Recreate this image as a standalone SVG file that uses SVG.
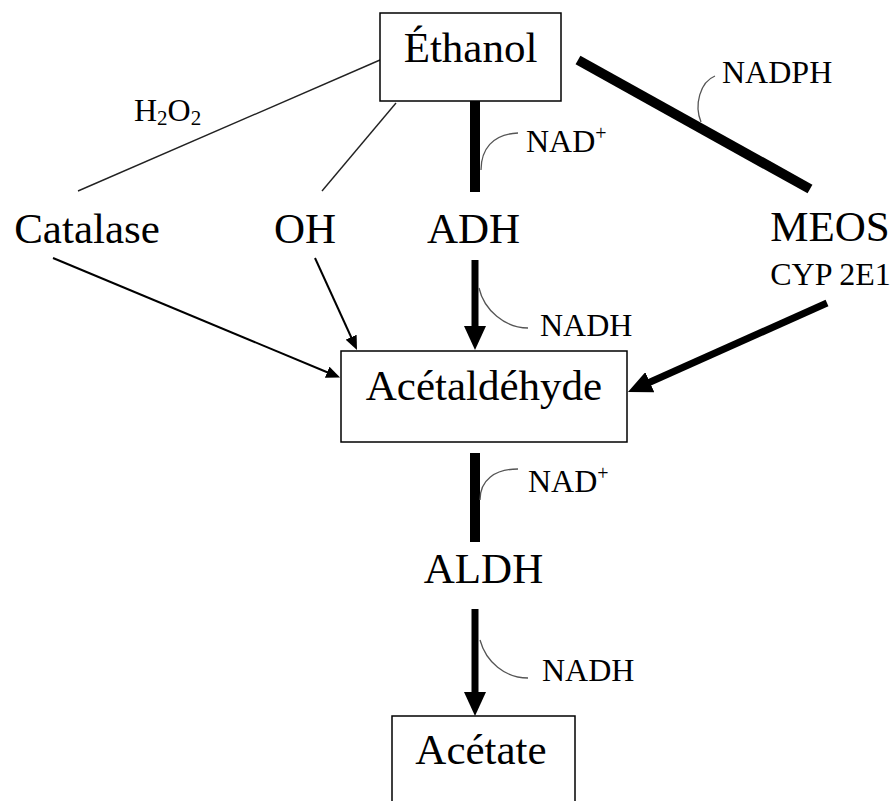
<svg xmlns="http://www.w3.org/2000/svg" width="892" height="801" viewBox="0 0 892 801">
<defs>
<style>
.big{font-family:'Liberation Serif','Times New Roman','DejaVu Serif',serif;font-size:43px;fill:#000}
.sm{font-family:'Liberation Serif','Times New Roman','DejaVu Serif',serif;font-size:32px;fill:#000}
.box{fill:#fff;stroke:#000;stroke-width:1.5}
.thin{stroke:#222;stroke-width:1.4;fill:none}
.hook{stroke:#555;stroke-width:1.3;fill:none}
.arr{stroke:#000;stroke-width:2;fill:none}
.thick{stroke:#000;stroke-width:7;fill:none}
.bar{stroke:#000;stroke-width:10;fill:none}
</style>
<marker id="bigHead" markerUnits="userSpaceOnUse" markerWidth="24" markerHeight="22" refX="2" refY="11" orient="auto">
<path d="M0,0 L24,11 L0,22 z" fill="#000"/>
</marker>
<marker id="smHead" markerUnits="userSpaceOnUse" markerWidth="14" markerHeight="12" refX="2" refY="6" orient="auto">
<path d="M0,0 L14,6 L0,12 z" fill="#000"/>
</marker>
</defs>
<rect width="892" height="801" fill="#fff"/>
<g id="connectors">
<line class="thin" x1="380" y1="60" x2="78" y2="191"/>
<line class="thin" x1="396" y1="103" x2="322" y2="191"/>
<line class="bar" x1="475" y1="101" x2="475" y2="192"/>
<line class="bar" x1="578" y1="60" x2="810" y2="189" stroke-width="9"/>
<line class="arr" x1="53" y1="258" x2="329" y2="373" marker-end="url(#smHead)"/>
<line class="arr" x1="315" y1="258" x2="352" y2="339" marker-end="url(#smHead)"/>
<line class="thick" x1="475" y1="260" x2="475" y2="328" marker-end="url(#bigHead)"/>
<line class="thick" x1="827" y1="303" x2="648" y2="383" marker-end="url(#bigHead)"/>
<line class="bar" x1="475" y1="453" x2="475" y2="542"/>
<line class="thick" x1="475" y1="609" x2="475" y2="694" marker-end="url(#bigHead)"/>
<path class="hook" d="M481,170 C481,150 492,134 518,133"/>
<path class="hook" d="M479,288 C484,310 505,328 528,328"/>
<path class="hook" d="M701,122 C694,105 700,82 715,76"/>
<path class="hook" d="M480,500 C480,480 495,469 518,469"/>
<path class="hook" d="M480,640 C486,662 505,678 528,678"/>
</g>
<g id="ethanol">
<rect class="box" x="380" y="13" width="181" height="88"/>
<text class="big" x="470.5" y="62" text-anchor="middle">Éthanol</text>
</g>
<g id="h2o2"><text class="sm" x="134" y="121">H<tspan font-size="21" dy="4">2</tspan><tspan dy="-4">O</tspan><tspan font-size="21" dy="4">2</tspan></text></g>
<g id="catalase"><text class="big" x="87" y="243" text-anchor="middle">Catalase</text></g>
<g id="oh"><text class="big" x="305" y="243" text-anchor="middle">OH</text></g>
<g id="adh"><text class="big" x="473.5" y="243" text-anchor="middle">ADH</text></g>
<g id="meos"><text class="big" x="830" y="241" text-anchor="middle">MEOS</text>
<text class="sm" x="830.5" y="285" text-anchor="middle" font-size="29">CYP 2E1</text></g>
<g id="nad1"><text class="sm" x="526" y="152">NAD<tspan font-size="20" dy="-12">+</tspan></text></g>
<g id="nadph"><text class="sm" x="722" y="83">NADPH</text></g>
<g id="nadh1"><text class="sm" x="540" y="336">NADH</text></g>
<g id="acetaldehyde">
<rect class="box" x="341" y="351" width="286" height="91"/>
<text class="big" x="484" y="400" text-anchor="middle">Acétaldéhyde</text>
</g>
<g id="nad2"><text class="sm" x="528" y="492">NAD<tspan font-size="20" dy="-12">+</tspan></text></g>
<g id="aldh"><text class="big" x="483.5" y="583" text-anchor="middle">ALDH</text></g>
<g id="nadh2"><text class="sm" x="542" y="681">NADH</text></g>
<g id="acetate">
<rect class="box" x="392" y="716" width="183" height="100"/>
<text class="big" x="481" y="764" text-anchor="middle">Acétate</text>
</g>
</svg>
